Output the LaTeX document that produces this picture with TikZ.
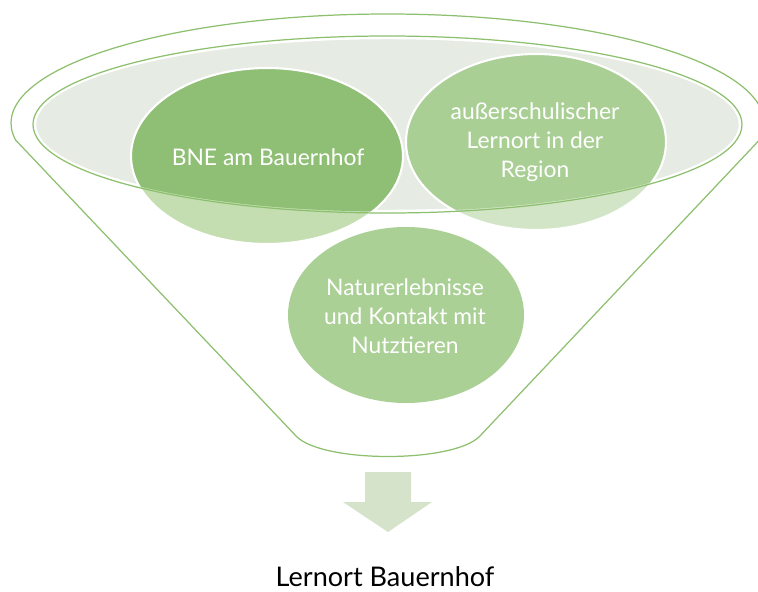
\documentclass[tikz,border=0pt]{standalone}
\usepackage{fontspec}
\setmainfont{Lato}
\usetikzlibrary{calc}
\definecolor{rim}{RGB}{141,192,110}
\definecolor{bowl}{RGB}{230,235,227}
\definecolor{bneIn}{RGB}{143,191,116}
\definecolor{bneOut}{RGB}{196,222,178}
\definecolor{regIn}{RGB}{169,207,148}
\definecolor{regOut}{RGB}{211,229,199}
\definecolor{natur}{RGB}{170,208,149}
\definecolor{spout}{RGB}{213,227,203}
\begin{document}
\begin{tikzpicture}[x=0.02cm,y=-0.02cm,line join=round,line cap=round,
	funnel/.style={draw=rim,line width=0.7pt,fill=white},
	bubble/.style={text=white,align=center,font=\fontsize{13}{16.6}\selectfont},
	result/.style={text=black,font=\fontsize{15.4}{18}\selectfont}]
	\useasboundingbox (0,0) rectangle (758,592);
	\coordinate (T) at (387.5,123);
	\coordinate (I) at (387.5,124.5);
	\coordinate (L) at (297,437);
	\coordinate (R) at (479,437);
	% funnel body
	\draw[funnel] ($(T)+(9:376.5 and 109)$) arc[start angle=9,end angle=-189,x radius=376.5,y radius=109]
		-- (L) .. controls (325,463) and (451,463) .. (R) -- cycle;
	% bowl
	\draw[white,line width=1.4pt,fill=bowl] (I) ellipse[x radius=352.5,y radius=86.5];
	% bubbles
	\foreach \n/\p/\rx/\c in {bne/{(267,156)}/136/bneOut,reg/{(536,142)}/130/regOut,nat/{(406,315)}/118/natur}{
		\fill[\c] \p coordinate (\n) ellipse[x radius=\rx,y radius=88];}
	\begin{scope}
		\clip (I) ellipse[x radius=353,y radius=87];
		\fill[bneIn] (bne) ellipse[x radius=136,y radius=88];
		\fill[regIn] (reg) ellipse[x radius=130,y radius=88];
	\end{scope}
	\foreach \n/\rx in {bne/136,reg/130}{\draw[white,line width=1.2pt] (\n) ellipse[x radius=\rx,y radius=88];}
	\draw[rim,line width=0.7pt] (I) ellipse[x radius=354.5,y radius=88.5];
	\node[bubble] (bneText) at (268,157) {BNE am Bauernhof};
	\node[bubble] (regText) at (535,142) {außerschulischer\\Lernort in der\\Region};
	\node[bubble] (natText) at (405,316) {Naturerlebnisse\\und Kontakt mit\\Nutztieren};
	% arrow
	\fill[spout] (365,472) -- (411,472) -- (411,502) -- (432,502) -- (388,532) -- (343,502) -- (365,502) -- cycle;
	\node[result] (out) at (385,577) {Lernort Bauernhof};
\end{tikzpicture}
\end{document}
